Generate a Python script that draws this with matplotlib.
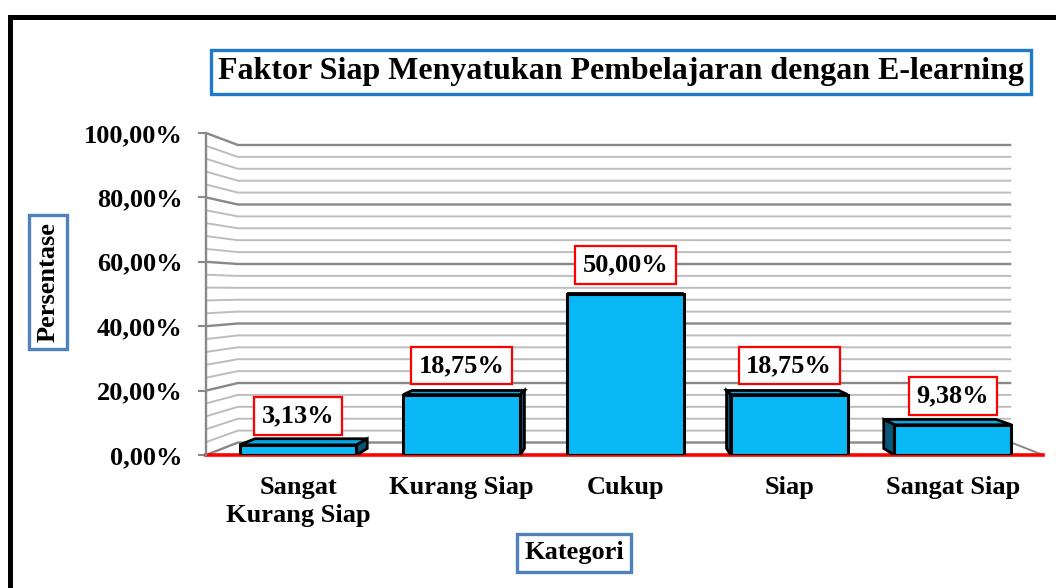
import matplotlib
matplotlib.use("Agg")
import matplotlib.pyplot as plt
from matplotlib.patches import Polygon, Rectangle

plt.rcParams['font.family'] = ['Liberation Serif', 'DejaVu Serif']
plt.rcParams['font.weight'] = 'bold'

categories = ["Sangat\nKurang Siap", "Kurang Siap", "Cukup", "Siap", "Sangat Siap"]
values = [3.13, 18.75, 50.00, 18.75, 9.38]
value_labels = ["3,13%", "18,75%", "50,00%", "18,75%", "9,38%"]
y_ticks = [0, 20, 40, 60, 80, 100]
y_tick_labels = ["0,00%", "20,00%", "40,00%", "60,00%", "80,00%", "100,00%"]
title = "Faktor Siap Menyatukan Pembelajaran dengan E-learning"
x_label = "Kategori"
y_label = "Persentase"

W, H = 1056, 588
fig = plt.figure(figsize=(W / 100, H / 100), dpi=100)
ax = fig.add_axes([206 / W, (H - 455) / H, 837 / W, 322 / H])
XL, XR = -0.562, 4.55
ax.set_xlim(XL, XR)
ax.set_ylim(0, 100)
for s in ax.spines.values():
    s.set_visible(False)

# perspective helpers
VX, VY = 2.0, 51.0
KW = 0.076   # wall depth
KB = 0.040   # bar depth


def P(x, y, k):
    return (x + (VX - x) * k, y + (VY - y) * k)


major_c = '#888888'
minor_c = '#bdbdbd'
# gridlines on left wall + back wall
for v in range(0, 101, 4):
    major = (v % 20 == 0)
    bx0, by0 = P(XL, v, KW)
    bx1, by1 = P(XR, v, KW)
    ax.plot([XL, bx0, bx1], [v, by0, by1], color=major_c if major else minor_c,
            lw=1.7 if major else 1.4, zorder=1, solid_capstyle='butt', clip_on=False)
# right floor edge
fx, fy = P(XR, 0, KW)
ax.plot([fx, XR], [fy, 0], color=major_c, lw=1.4, zorder=1, clip_on=False)
# front floor edge (red)
ax.plot([XL, XR], [0, 0], color='#ff0000', lw=2.6, zorder=2, clip_on=False)
# y axis line
ax.plot([XL, XL], [0, 100], color=major_c, lw=1.7, zorder=2, clip_on=False)

# bars
front_c = '#0ab8f5'
top_c = '#0aa8e4'
side_c = '#0b5676'
bw = 0.714
xs = list(range(len(values)))
bars = ax.bar(xs, values, width=bw, color=front_c, edgecolor='black', linewidth=2.2, zorder=5)
for b in bars:
    x0 = b.get_x()
    x1 = x0 + b.get_width()
    h = b.get_height()
    # top face
    t = [(x0, h), (x1, h), P(x1, h, KB), P(x0, h, KB)]
    ax.add_patch(Polygon(t, closed=True, facecolor=top_c, edgecolor='black', lw=2.0, zorder=4,
                         joinstyle='miter'))
    if x1 < VX - 0.05:
        sd = [(x1, 0), (x1, h), P(x1, h, KB), P(x1, 0, KB)]
        ax.add_patch(Polygon(sd, closed=True, facecolor=side_c, edgecolor='black', lw=2.0, zorder=4,
                             joinstyle='miter'))
    elif x0 > VX + 0.05:
        sd = [(x0, 0), (x0, h), P(x0, h, KB), P(x0, 0, KB)]
        ax.add_patch(Polygon(sd, closed=True, facecolor=side_c, edgecolor='black', lw=2.0, zorder=4,
                             joinstyle='miter'))

FS = 19
# value labels
for x, v, lab in zip(xs, values, value_labels):
    ax.annotate(lab, (x, v), xytext=(0, 21), textcoords='offset points', ha='center', va='center',
                fontsize=FS, fontweight='bold', zorder=8,
                bbox=dict(boxstyle='square,pad=0.28', fc='white', ec='#ff0000', lw=1.6))

# ticks
ax.set_yticks(y_ticks)
ax.set_yticklabels(y_tick_labels, fontsize=FS, fontweight='bold')
ax.tick_params(axis='y', length=6, width=1.5, color=major_c, pad=11)
ax.set_xticks(xs)
ax.set_xticklabels(categories, fontsize=FS, fontweight='bold', linespacing=1.3)
ax.tick_params(axis='x', length=0, pad=15)

# title and axis label boxes
fig.text(621 / W, 1 - 72 / H, title, ha='center', va='center', fontsize=23, fontweight='bold',
         bbox=dict(boxstyle='square,pad=0.22', fc='white', ec='#1f78c8', lw=2.4))
fig.text(48 / W, 1 - 282 / H, y_label, ha='center', va='center', rotation=90, fontsize=FS,
         fontweight='bold', bbox=dict(boxstyle='square,pad=0.27', fc='white', ec='#4f81bd', lw=2.4))
fig.text(574 / W, 1 - 553 / H, x_label, ha='center', va='center', fontsize=FS, fontweight='bold',
         bbox=dict(boxstyle='square,pad=0.27', fc='white', ec='#4f81bd', lw=2.4))

# outer frame (extends beyond right/bottom edges)
fig.patches.append(Rectangle((9.5 / W, -0.2), 1.3, 1 - 16.5 / H + 0.2, transform=fig.transFigure,
                             fill=False, ec='black', lw=3.6))

fig.savefig('out.png', dpi=100)
